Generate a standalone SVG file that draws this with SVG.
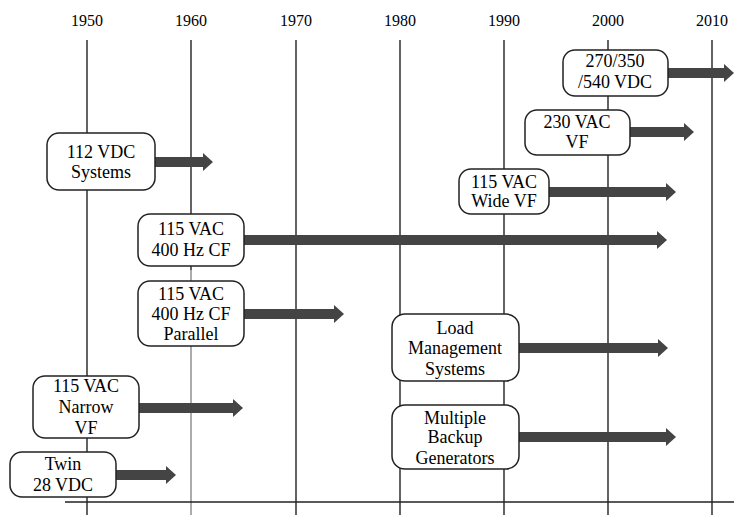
<svg xmlns="http://www.w3.org/2000/svg" width="734" height="515" viewBox="0 0 734 515">
<defs>
<style>
.yr{font-family:"Liberation Serif","Times New Roman",serif;font-size:16px;fill:#000;text-anchor:middle}
.t{font-family:"Liberation Serif","Times New Roman",serif;font-size:18px;fill:#000;text-anchor:middle}
.box{fill:#fff;stroke:#222;stroke-width:1.5}
.grid{stroke:#222;stroke-width:1.4}
.arr{stroke:#444;stroke-width:10;fill:none}
</style>
<marker id="ah" markerUnits="userSpaceOnUse" markerWidth="10" markerHeight="18" refX="0" refY="9" orient="auto" overflow="visible">
<path d="M0,0 L10,9 L0,18 z" fill="#444"/>
</marker>
</defs>
<rect width="734" height="515" fill="#fff"/>
<g id="axis">
<text class="yr" x="87" y="26">1950</text>
<text class="yr" x="191" y="26">1960</text>
<text class="yr" x="296" y="26">1970</text>
<text class="yr" x="400" y="26">1980</text>
<text class="yr" x="504" y="26">1990</text>
<text class="yr" x="608" y="26">2000</text>
<text class="yr" x="712" y="26">2010</text>
<line class="grid" x1="87" y1="40" x2="87" y2="515"/>
<line class="grid" x1="191" y1="40" x2="191" y2="270"/>
<line x1="191" y1="270" x2="191" y2="515" stroke="#888" stroke-width="1.4"/>
<line class="grid" x1="296" y1="40" x2="296" y2="515"/>
<line class="grid" x1="400" y1="40" x2="400" y2="515"/>
<line class="grid" x1="504" y1="40" x2="504" y2="515"/>
<line class="grid" x1="608" y1="40" x2="608" y2="515"/>
<line class="grid" x1="712" y1="40" x2="712" y2="515"/>
<line x1="65" y1="502" x2="734" y2="502" stroke="#222" stroke-width="1.6"/>
</g>
<g id="connectors">
<line class="arr" x1="668" y1="73" x2="724" y2="73" marker-end="url(#ah)"/>
<line class="arr" x1="630" y1="132" x2="684" y2="132" marker-end="url(#ah)"/>
<line class="arr" x1="155" y1="162" x2="203" y2="162" marker-end="url(#ah)"/>
<line class="arr" x1="549" y1="192" x2="666" y2="192" marker-end="url(#ah)"/>
<line class="arr" x1="244" y1="240" x2="657" y2="240" marker-end="url(#ah)"/>
<line class="arr" x1="244" y1="314" x2="334" y2="314" marker-end="url(#ah)"/>
<line class="arr" x1="519" y1="348" x2="658" y2="348" marker-end="url(#ah)"/>
<line class="arr" x1="519" y1="437" x2="666" y2="437" marker-end="url(#ah)"/>
<line class="arr" x1="139" y1="408" x2="233" y2="408" marker-end="url(#ah)"/>
<line class="arr" x1="116" y1="475" x2="166" y2="475" marker-end="url(#ah)"/>
</g>
<g id="n1"><rect class="box" x="563" y="50" width="105" height="46" rx="12"/><text class="t" x="615" y="67">270/350</text><text class="t" x="615" y="88">/540 VDC</text></g>
<g id="n2"><rect class="box" x="525" y="110" width="105" height="45" rx="12"/><text class="t" x="577" y="128">230 VAC</text><text class="t" x="577" y="148">VF</text></g>
<g id="n3"><rect class="box" x="47" y="133" width="108" height="57" rx="12"/><text class="t" x="101" y="158">112 VDC</text><text class="t" x="101" y="178">Systems</text></g>
<g id="n4"><rect class="box" x="459" y="169" width="90" height="45" rx="12"/><text class="t" x="504" y="188">115 VAC</text><text class="t" x="504" y="207">Wide VF</text></g>
<g id="n5"><rect class="box" x="138" y="214" width="106" height="52" rx="12"/><text class="t" x="191" y="235">115 VAC</text><text class="t" x="191" y="256">400 Hz CF</text></g>
<g id="n6"><rect class="box" x="138" y="281" width="106" height="65" rx="12"/><text class="t" x="191" y="300">115 VAC</text><text class="t" x="191" y="320">400 Hz CF</text><text class="t" x="191" y="340">Parallel</text></g>
<g id="n7"><rect class="box" x="392" y="314" width="127" height="67" rx="13"/><text class="t" x="455" y="334">Load</text><text class="t" x="455" y="354">Management</text><text class="t" x="455" y="375">Systems</text></g>
<g id="n8"><rect class="box" x="392" y="405" width="127" height="64" rx="13"/><text class="t" x="455" y="424">Multiple</text><text class="t" x="455" y="443">Backup</text><text class="t" x="455" y="464">Generators</text></g>
<g id="n9"><rect class="box" x="33" y="376" width="106" height="62" rx="12"/><text class="t" x="86" y="392">115 VAC</text><text class="t" x="86" y="413">Narrow</text><text class="t" x="86" y="434">VF</text></g>
<g id="n10"><rect class="box" x="10" y="452" width="106" height="45" rx="12"/><text class="t" x="63" y="470">Twin</text><text class="t" x="63" y="491">28 VDC</text></g>
</svg>
